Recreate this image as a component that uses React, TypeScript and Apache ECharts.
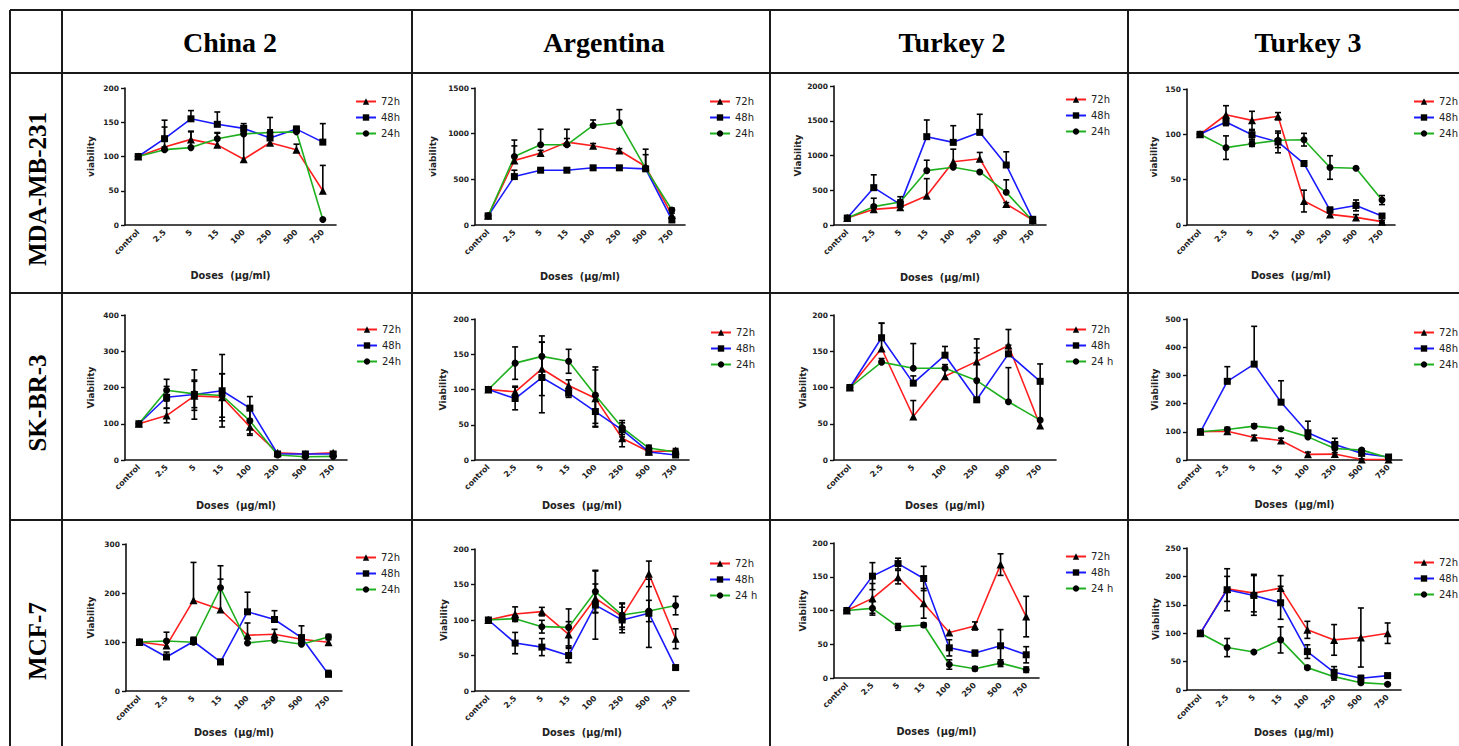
import React, { useEffect, useRef } from 'react';
import * as echarts from 'echarts';

// ---------- categories & titles ----------
const DOSES = ['control', '2.5', '5', '15', '100', '250', '500', '750'];
const DOSES_NO15 = ['control', '2.5', '5', '100', '250', '500', '750'];
const COL_TITLES = ['China 2', 'Argentina', 'Turkey 2', 'Turkey 3'];
const ROW_TITLES = ['MDA-MB-231', 'SK-BR-3', 'MCF-7'];
const SERIES_NAMES = ['72h', '48h', '24h'];
const X_NAME = 'Doses  (µg/ml)';

// ---------- MDA-MB-231 ----------
const china2Mda72 = [100, 114, 125, 117, 96, 120, 110, 50];
const china2Mda72Err = [0, 29, 12, 18, 38, 0, 8, 37];
const china2Mda48 = [100, 126, 155, 147, 141, 127, 140, 121];
const china2Mda48Err = [0, 27, 12, 18, 7, 30, 4, 27];
const china2Mda24 = [100, 110, 113, 126, 133, 135, 136, 8];
const china2Mda24Err = [0, 4, 23, 8, 5, 4, 4, 0];

const argMda72 = [100, 706, 787, 907, 867, 816, 640, 110];
const argMda72Err = [0, 160, 30, 40, 25, 20, 130, 20];
const argMda48 = [100, 530, 600, 600, 626, 626, 615, 55];
const argMda48Err = [0, 70, 15, 15, 15, 20, 15, 20];
const argMda24 = [100, 750, 878, 878, 1090, 1123, 620, 165];
const argMda24Err = [0, 180, 170, 170, 60, 140, 210, 20];

const tur2Mda72 = [100, 225, 254, 422, 911, 954, 302, 72];
const tur2Mda72Err = [0, 160, 20, 245, 180, 90, 20, 0];
const tur2Mda48 = [100, 537, 297, 1271, 1189, 1333, 863, 82];
const tur2Mda48Err = [0, 185, 110, 240, 240, 260, 190, 0];
const tur2Mda24 = [100, 264, 331, 782, 830, 763, 470, 58];
const tur2Mda24Err = [0, 20, 30, 150, 0, 0, 180, 0];

const tur3Mda72 = [100, 121.6, 115.4, 120, 26.4, 11.7, 8.4, 3.7];
const tur3Mda72Err = [0, 10, 10, 4, 12, 3, 3, 1];
const tur3Mda48 = [100, 113.6, 99.6, 91.6, 67.8, 16.5, 21.6, 9.9];
const tur3Mda48Err = [0, 4, 5, 12, 3, 3, 6, 2];
const tur3Mda24 = [100, 85.3, 89.7, 93.4, 94.1, 63.4, 62.6, 27.5];
const tur3Mda24Err = [0, 13, 3, 8, 7, 13, 1, 5];

// ---------- SK-BR-3 ----------
const china2Sk72 = [100, 122.6, 177, 173, 92, 20, 16.6, 20];
const china2Sk72Err = [0, 20, 40, 65, 20, 2, 2, 2];
const china2Sk48 = [100, 173, 180.6, 191, 143, 16.6, 16.6, 16.6];
const china2Sk48Err = [0, 30, 68, 100, 32, 2, 2, 5];
const china2Sk24 = [100, 192.6, 182.5, 178, 108, 14, 9, 10];
const china2Sk24Err = [0, 30, 38, 60, 40, 2, 2, 2];

const argSk72 = [100, 96.7, 129.4, 105.7, 87.7, 30.8, 11.8, 13.3];
const argSk72Err = [0, 8, 38, 8, 40, 12, 3, 3];
const argSk48 = [100, 87.2, 117, 94.8, 68.7, 42.7, 11.4, 7.1];
const argSk48Err = [0, 16, 50, 6, 22, 10, 3, 2];
const argSk24 = [100, 137.4, 147, 140, 92, 46, 17, 11.4];
const argSk24Err = [0, 23, 29, 17, 40, 10, 4, 3];

const tur2Sk72 = [100, 153.8, 60, 115.5, 136, 158, 47.6];
const tur2Sk72Err = [0, 35, 22, 10, 31, 22, 60];
const tur2Sk48 = [100, 168.6, 106, 144.6, 83, 146.4, 108.5];
const tur2Sk48Err = [0, 20, 10, 12, 65, 12, 24];
const tur2Sk24 = [100, 135, 126.6, 126.6, 109.5, 80.4, 55];
const tur2Sk24Err = [0, 5, 34, 5, 45, 47, 0];

const tur3Sk72 = [100, 102, 80, 69.4, 20, 21, 2, 2];
const tur3Sk72Err = [0, 5, 8, 8, 8, 5, 2, 2];
const tur3Sk48 = [100, 279, 340, 205, 96.5, 55, 23.5, 10.6];
const tur3Sk48Err = [0, 52, 134, 76, 41, 22, 12, 3];
const tur3Sk24 = [100, 108, 120, 110.6, 82, 41, 35, 8];
const tur3Sk24Err = [0, 8, 8, 5, 5, 5, 5, 2];

// ---------- MCF-7 ----------
const china2Mcf72 = [100, 92.7, 185.4, 166.3, 113.8, 115.9, 105.7, 99.5];
const china2Mcf72Err = [0, 8, 77, 62, 25, 10, 5, 5];
const china2Mcf48 = [100, 69.5, 101, 59.3, 161.6, 145.9, 109, 34];
const china2Mcf48Err = [0, 10, 8, 5, 40, 18, 24, 8];
const china2Mcf24 = [100, 102, 99.5, 210.6, 98, 103.6, 95.4, 110.4];
const china2Mcf24Err = [0, 18, 10, 45, 8, 5, 5, 5];

const argMcf72 = [100, 108.5, 111.8, 79.7, 130.7, 104.7, 165, 73.6];
const argMcf72Err = [0, 10, 6, 18, 20, 18, 18, 14];
const argMcf48 = [100, 67.5, 61.8, 50, 121, 100, 109.4, 33];
const argMcf48Err = [0, 15, 12, 10, 48, 18, 48, 2];
const argMcf24 = [100, 101.9, 90.6, 89.6, 140, 107, 112.7, 120.3];
const argMcf24Err = [0, 4, 9, 26, 30, 17, 15, 13];

const tur2Mcf72 = [100, 118, 149.4, 110.6, 67.3, 77.1, 168, 91];
const tur2Mcf72Err = [0, 22, 10, 22, 0, 6, 16, 30];
const tur2Mcf48 = [100, 150.9, 169.5, 147.4, 44.7, 36.9, 47.7, 34.4];
const tur2Mcf48Err = [0, 20, 8, 18, 12, 4, 24, 12];
const tur2Mcf24 = [100, 103.2, 75.7, 78.6, 20, 13.8, 22, 12.3];
const tur2Mcf24Err = [0, 10, 5, 3, 7, 3, 5, 4];

const tur3Mcf72 = [100, 178, 170.6, 179.4, 105.9, 88.2, 92.4, 100];
const tur3Mcf72Err = [0, 22, 33, 22, 15, 27, 52, 18];
const tur3Mcf48 = [100, 176.5, 166.5, 153.5, 67.6, 31.2, 20.6, 25.3];
const tur3Mcf48Err = [0, 37, 35, 29, 12, 10, 5, 4];
const tur3Mcf24 = [100, 74.7, 67, 88.2, 39.4, 23.5, 12.9, 10];
const tur3Mcf24Err = [0, 16, 2, 23, 3, 6, 3, 2];

// ---------- panel layout ----------
type Panel = {
  cats: string[];
  vals: number[][];
  errs: number[][];
  mode: 'up' | 'both';
  yMax: number;
  yInt: number;
  yName: string;
  names: string[];
  grid: [number, number, number, number];
  yGap: number;
  xGap: number;
  legend: [number, number];
};

const N24 = ['72h', '48h', '24 h'];

const PANELS: Panel[] = [
  { cats: DOSES, vals: [china2Mda72, china2Mda48, china2Mda24], errs: [china2Mda72Err, china2Mda48Err, china2Mda24Err], mode: 'up', yMax: 200, yInt: 50, yName: 'viability', names: SERIES_NAMES, grid: [125, 88, 211, 137], yGap: 30, xGap: 45, legend: [350, 91] },
  { cats: DOSES, vals: [argMda72, argMda48, argMda24], errs: [argMda72Err, argMda48Err, argMda24Err], mode: 'up', yMax: 1500, yInt: 500, yName: 'viability', names: SERIES_NAMES, grid: [475, 88, 210, 137], yGap: 38, xGap: 46, legend: [704, 91] },
  { cats: DOSES, vals: [tur2Mda72, tur2Mda48, tur2Mda24], errs: [tur2Mda72Err, tur2Mda48Err, tur2Mda24Err], mode: 'up', yMax: 2000, yInt: 500, yName: 'Viability', names: SERIES_NAMES, grid: [834, 86, 212, 139], yGap: 32, xGap: 47, legend: [1060, 89] },
  { cats: DOSES, vals: [tur3Mda72, tur3Mda48, tur3Mda24], errs: [tur3Mda72Err, tur3Mda48Err, tur3Mda24Err], mode: 'both', yMax: 150, yInt: 50, yName: 'viability', names: SERIES_NAMES, grid: [1187, 89, 208, 136], yGap: 29, xGap: 45, legend: [1408, 91] },

  { cats: DOSES, vals: [china2Sk72, china2Sk48, china2Sk24], errs: [china2Sk72Err, china2Sk48Err, china2Sk24Err], mode: 'both', yMax: 400, yInt: 100, yName: 'Viability', names: SERIES_NAMES, grid: [125, 315, 222, 145], yGap: 30, xGap: 40, legend: [351, 319] },
  { cats: DOSES, vals: [argSk72, argSk48, argSk24], errs: [argSk72Err, argSk48Err, argSk24Err], mode: 'both', yMax: 200, yInt: 50, yName: 'Viability', names: SERIES_NAMES, grid: [475, 319, 214, 141], yGap: 28, xGap: 40, legend: [705, 322] },
  { cats: DOSES_NO15, vals: [tur2Sk72, tur2Sk48, tur2Sk24], errs: [tur2Sk72Err, tur2Sk48Err, tur2Sk24Err], mode: 'up', yMax: 200, yInt: 50, yName: 'Viability', names: N24, grid: [834, 315, 222, 145], yGap: 27, xGap: 40, legend: [1060, 319] },
  { cats: DOSES, vals: [tur3Sk72, tur3Sk48, tur3Sk24], errs: [tur3Sk72Err, tur3Sk48Err, tur3Sk24Err], mode: 'up', yMax: 500, yInt: 100, yName: 'Viability', names: SERIES_NAMES, grid: [1187, 319, 215, 141], yGap: 28, xGap: 39, legend: [1408, 322] },

  { cats: DOSES, vals: [china2Mcf72, china2Mcf48, china2Mcf24], errs: [china2Mcf72Err, china2Mcf48Err, china2Mcf24Err], mode: 'up', yMax: 300, yInt: 100, yName: 'Viability', names: SERIES_NAMES, grid: [126, 544, 216, 147], yGap: 31, xGap: 36, legend: [350, 547] },
  { cats: DOSES, vals: [argMcf72, argMcf48, argMcf24], errs: [argMcf72Err, argMcf48Err, argMcf24Err], mode: 'both', yMax: 200, yInt: 50, yName: 'Viability', names: N24, grid: [475, 549, 214, 142], yGap: 27, xGap: 36, legend: [704, 553] },
  { cats: DOSES, vals: [tur2Mcf72, tur2Mcf48, tur2Mcf24], errs: [tur2Mcf72Err, tur2Mcf48Err, tur2Mcf24Err], mode: 'both', yMax: 200, yInt: 50, yName: 'Viability', names: N24, grid: [834, 543, 205, 135], yGap: 27, xGap: 48, legend: [1060, 546] },
  { cats: DOSES, vals: [tur3Mcf72, tur3Mcf48, tur3Mcf24], errs: [tur3Mcf72Err, tur3Mcf48Err, tur3Mcf24Err], mode: 'both', yMax: 250, yInt: 50, yName: 'Viability', names: SERIES_NAMES, grid: [1187, 548, 214, 142], yGap: 27, xGap: 37, legend: [1408, 552] },
];

const LINE_COLORS = ['#ff1f1f', '#1a1aff', '#1fb01f'];
const SYMBOLS = ['triangle', 'rect', 'circle'];
const SYMBOL_SIZES = [8, 7, 7];
const FONT = 'DejaVu Sans';
const SERIF = 'Liberation Serif';

const COL_X = [10, 62, 412, 770, 1128];
const ROW_Y = [10, 73, 293, 520];
const COL_TITLE_X = [230, 604, 952, 1308];
const ROW_TITLE_Y = [189, 403, 641];

function makeErrRenderer(mode: 'up' | 'both') {
  return (_params: any, api: any) => {
    const x = api.value(0);
    const v = api.value(1);
    const e = api.value(2);
    if (!e) return null;
    const c = api.coord([x, v]);
    const hi = api.coord([x, v + e]);
    const lo = mode === 'both' ? api.coord([x, Math.max(0, v - e)]) : c;
    const w = 3;
    const st = { stroke: '#000', lineWidth: 1.6 };
    const children: any[] = [
      { type: 'line', shape: { x1: c[0], y1: lo[1], x2: c[0], y2: hi[1] }, style: st },
      { type: 'line', shape: { x1: c[0] - w, y1: hi[1], x2: c[0] + w, y2: hi[1] }, style: st },
    ];
    if (mode === 'both') {
      children.push({ type: 'line', shape: { x1: c[0] - w, y1: lo[1], x2: c[0] + w, y2: lo[1] }, style: st });
    }
    return { type: 'group', children };
  };
}

function buildOption() {
  const grid: any[] = [];
  const xAxis: any[] = [];
  const yAxis: any[] = [];
  const series: any[] = [];
  const legend: any[] = [];

  PANELS.forEach((p, i) => {
    const [left, top, width, height] = p.grid;
    grid.push({ left, top, width, height, containLabel: false });
    xAxis.push({
      type: 'category',
      gridIndex: i,
      data: p.cats,
      boundaryGap: true,
      axisLine: { lineStyle: { color: '#111', width: 1.6 } },
      axisTick: { alignWithLabel: true, length: 4, lineStyle: { color: '#111', width: 1.4 } },
      axisLabel: { rotate: 45, interval: 0, fontSize: 8, fontWeight: 'bold', color: '#222', fontFamily: FONT, margin: 6 },
      name: X_NAME,
      nameLocation: 'middle',
      nameGap: p.xGap,
      nameTextStyle: { fontSize: 9.75, fontWeight: 'bold', color: '#222', fontFamily: FONT },
    });
    yAxis.push({
      type: 'value',
      gridIndex: i,
      min: 0,
      max: p.yMax,
      interval: p.yInt,
      axisLine: { show: true, lineStyle: { color: '#111', width: 1.6 } },
      axisTick: { show: true, length: 4, lineStyle: { color: '#111', width: 1.4 } },
      splitLine: { show: false },
      axisLabel: { fontSize: 7.5, fontWeight: 'bold', color: '#222', fontFamily: FONT, margin: 6, formatter: (v: number) => String(v) },
      name: p.yName,
      nameLocation: 'middle',
      nameRotate: 90,
      nameGap: p.yGap,
      nameTextStyle: { fontSize: 9, fontWeight: 'bold', color: '#222', fontFamily: FONT },
    });
    p.vals.forEach((vals, s) => {
      series.push({
        type: 'line',
        name: p.names[s],
        xAxisIndex: i,
        yAxisIndex: i,
        data: vals,
        symbol: SYMBOLS[s],
        symbolSize: SYMBOL_SIZES[s],
        showAllSymbol: true,
        itemStyle: { color: '#000' },
        lineStyle: { color: LINE_COLORS[s], width: 1.6 },
        z: 2,
      });
    });
    p.vals.forEach((vals, s) => {
      series.push({
        type: 'custom',
        name: 'err' + i + '_' + s,
        xAxisIndex: i,
        yAxisIndex: i,
        renderItem: makeErrRenderer(p.mode),
        encode: { x: 0, y: 1 },
        data: vals.map((v, k) => [k, v, p.errs[s][k]]),
        z: 3,
        silent: true,
      });
    });
    legend.push({
      orient: 'vertical',
      left: p.legend[0],
      top: p.legend[1],
      itemWidth: 20,
      itemHeight: 8,
      itemGap: 5,
      selectedMode: false,
      data: p.names,
      textStyle: { fontSize: 10, color: '#222', fontFamily: FONT, lineHeight: 11 },
    });
  });

  const graphics: any[] = [];
  const lineStyle = { stroke: '#1a1a1a', lineWidth: 2 };
  COL_X.forEach((x) => {
    graphics.push({ type: 'line', shape: { x1: x, y1: ROW_Y[0], x2: x, y2: 746 }, style: lineStyle, z: 10 });
  });
  ROW_Y.forEach((y) => {
    graphics.push({ type: 'line', shape: { x1: COL_X[0], y1: y, x2: 1459, y2: y }, style: lineStyle, z: 10 });
  });
  COL_TITLES.forEach((t, c) => {
    graphics.push({
      type: 'text',
      x: COL_TITLE_X[c],
      y: 42,
      style: { text: t, fontSize: 28, fontWeight: 'bold', fontFamily: SERIF, fill: '#000', align: 'center', verticalAlign: 'middle' },
      z: 10,
    });
  });
  ROW_TITLES.forEach((t, r) => {
    graphics.push({
      type: 'text',
      x: 37,
      y: ROW_TITLE_Y[r],
      rotation: Math.PI / 2,
      style: { text: t, fontSize: 25, fontWeight: 'bold', fontFamily: SERIF, fill: '#000', align: 'center', verticalAlign: 'middle' },
      z: 10,
    });
  });

  return {
    animation: false,
    backgroundColor: '#fff',
    textStyle: { fontFamily: FONT },
    grid,
    xAxis,
    yAxis,
    series,
    legend,
    graphic: graphics,
  };
}

export default function App() {
  const ref = useRef<HTMLDivElement>(null);
  useEffect(() => {
    const chart = echarts.init(ref.current!, null, { renderer: 'svg' });
    chart.setOption(buildOption());
    return () => chart.dispose();
  }, []);
  return (
    <div
      ref={ref}
      style={{ position: 'absolute', left: 0, top: 0, width: 1459, height: 746, background: '#fff' }}
    />
  );
}
